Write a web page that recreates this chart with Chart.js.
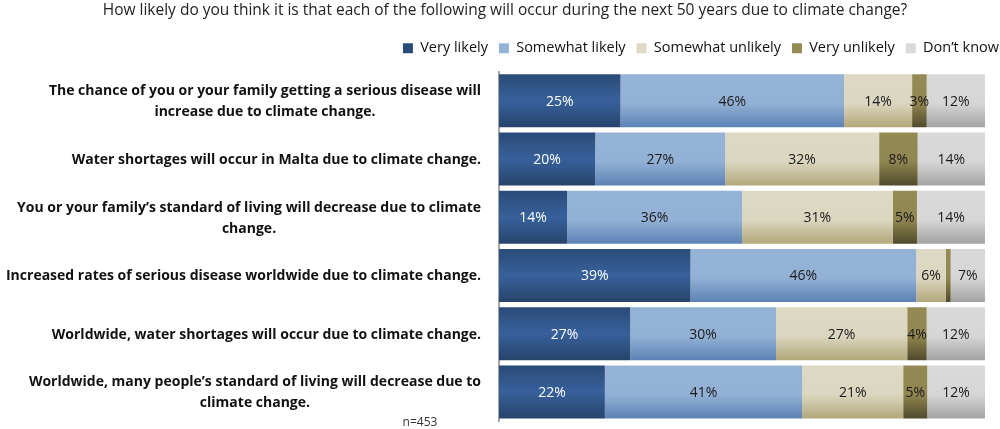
<!DOCTYPE html>
<html>
<head>
<meta charset="utf-8">
<script src="https://cdn.jsdelivr.net/npm/chart.js@4.4.0/dist/chart.umd.min.js"></script>
<style>
  html, body { margin: 0; padding: 0; background: #fff; }
  #wrap { width: 1000px; height: 429px; }
</style>
</head>
<body>
<div id="wrap"><canvas id="chart"></canvas></div>
<script>
const statements = [
  ["The chance of you or your family getting a serious disease will", "increase due to climate change."],
  ["Water shortages will occur in Malta due to climate change."],
  ["You or your family’s standard of living will decrease due to climate", "change."],
  ["Increased rates of serious disease worldwide due to climate change."],
  ["Worldwide, water shortages will occur due to climate change."],
  ["Worldwide, many people’s standard of living will decrease due to", "climate change."]
];
const seriesNames = ["Very likely", "Somewhat likely", "Somewhat unlikely", "Very unlikely", "Don’t know"];
const veryLikely = [25, 20, 14, 39, 27, 22];
const somewhatLikely = [46, 27, 36, 46, 30, 41];
const somewhatUnlikely = [14, 32, 31, 6, 27, 21];
const veryUnlikely = [3, 8, 5, 1, 4, 5];
const dontKnow = [12, 14, 14, 7, 12, 12];

const series = [veryLikely, somewhatLikely, somewhatUnlikely, veryUnlikely, dontKnow];

// gradient stops per series: top, middle, bottom
const shades = [
  ["#2b4b77", "#37619b", "#27446b"],
  ["#95b3d7", "#93b1d5", "#5d82b6"],
  ["#ddd9c4", "#dbd6bf", "#b2a87c"],
  ["#948a54", "#908650", "#4f4a2c"],
  ["#d9d9d9", "#d6d6d6", "#a3a3a3"]
];
const legendColors = ["#345c92", "#8eabd0", "#d6d0b2", "#857b47", "#cfcfcf"];
const labelColors = ["#ffffff", "#1a1a1a", "#1a1a1a", "#1a1a1a", "#1a1a1a"];

const rowTotals = statements.map((s, j) => series.reduce((sum, arr) => sum + arr[j], 0));

function barFill(si) {
  return (ctx) => {
    if (ctx.type !== "data") return legendColors[si];
    const chart = ctx.chart;
    const y = chart.scales.y;
    if (!y || !isFinite(y.top) || !isFinite(y.bottom) || y.bottom <= y.top) return legendColors[si];
    const yc = y.getPixelForValue(ctx.dataIndex);
    const half = (y.bottom - y.top) / statements.length * 0.91 / 2;
    if (!isFinite(yc) || !isFinite(half)) return legendColors[si];
    const g = chart.ctx.createLinearGradient(0, yc - half, 0, yc + half);
    const s = shades[si];
    g.addColorStop(0, s[0]);
    g.addColorStop(si === 0 ? 0.5 : 0.55, s[1]);
    g.addColorStop(1, s[2]);
    return g;
  };
}

const datasets = series.map((arr, si) => ({
  label: seriesNames[si],
  data: arr.map((v, j) => v / rowTotals[j] * 100),
  backgroundColor: barFill(si),
  borderWidth: 0,
  categoryPercentage: 0.91,
  barPercentage: 1
}));

const labelPlugin = {
  id: "labels",
  afterDatasetsDraw(chart) {
    const c = chart.ctx;
    c.save();
    c.font = "14px 'Open Sans'";
    c.textAlign = "center";
    c.textBaseline = "middle";
    series.forEach((arr, si) => {
      const meta = chart.getDatasetMeta(si);
      meta.data.forEach((bar, j) => {
        if (arr[j] < 2) return;
        c.fillStyle = labelColors[si];
        c.fillText(arr[j] + "%", (bar.x + bar.base) / 2, bar.y + 1);
      });
    });
    c.restore();
  },
  afterDraw(chart) {
    const c = chart.ctx;
    const y = chart.scales.y;
    c.save();
    c.font = "bold 14px 'Open Sans'";
    c.fillStyle = "#111";
    c.textAlign = "center";
    c.textBaseline = "middle";
    statements.forEach((lines, i) => {
      const bw = Math.min(481, Math.max(...lines.map(l => c.measureText(l).width)));
      const cx = 481 - bw / 2;
      const yc = y.getPixelForValue(i) + 1;
      lines.forEach((l, k) => {
        c.fillText(l, cx, yc + (k - (lines.length - 1) / 2) * 21, 481);
      });
    });
    c.font = "12px 'Open Sans'";
    c.fillStyle = "#333";
    c.fillText("n=453", 420, 423);
    c.restore();
  }
};

const chart = new Chart(document.getElementById("chart"), {
  type: "bar",
  data: { labels: statements.map(s => s.join(" ")), datasets },
  options: {
    indexAxis: "y",
    responsive: true,
    maintainAspectRatio: false,
    animation: false,
    layout: { padding: { right: -10, bottom: 8 } },
    scales: {
      x: { stacked: true, display: false, min: 0, max: 100 },
      xTop: {
        type: "linear", axis: "x", position: "top", display: true,
        grid: { display: false }, border: { display: false }, ticks: { display: false },
        afterFit: (s) => { s.height = 6; }
      },
      y: {
        stacked: true,
        grid: { display: false },
        border: { display: true, color: "#a6a6a6", width: 2 },
        ticks: { display: false },
        afterFit: (s) => { s.width = 499; }
      },
      yRight: {
        type: "category", axis: "y", position: "right", display: true,
        grid: { display: false }, border: { display: false }, ticks: { display: false },
        afterFit: (s) => { s.width = 25; }
      }
    },
    plugins: {
      title: {
        display: true,
        text: "How likely do you think it is that each of the following will occur during the next 50 years due to climate change?",
        color: "#222",
        font: { family: "Open Sans", size: 15.5, weight: "normal" },
        padding: { top: 1, bottom: 10.5 }
      },
      legend: {
        position: "top",
        align: "end",
        labels: {
          color: "#111",
          font: { family: "Open Sans", size: 14.5 },
          boxWidth: 10,
          boxHeight: 10,
          padding: 11
        }
      },
      tooltip: { enabled: false }
    }
  },
  plugins: [labelPlugin]
});
// redraw once so the gradients are resolved against the fitted scale
chart.update();
</script>
</body>
</html>
